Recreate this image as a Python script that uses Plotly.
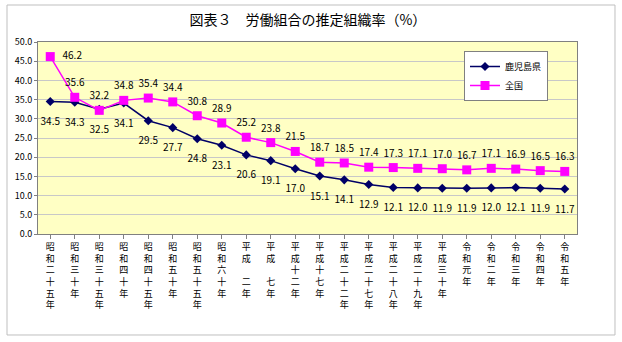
import plotly.graph_objects as go

# Survey years (vertical Japanese labels)
years = ["昭和二十五年", "昭和三十年", "昭和三十五年", "昭和四十年", "昭和四十五年",
         "昭和五十年", "昭和五十五年", "昭和六十年", "平成　二年", "平成　七年",
         "平成十二年", "平成十七年", "平成二十二年", "平成二十七年", "平成二十八年",
         "平成二十九年", "平成三十年", "令和元年", "令和二年", "令和三年",
         "令和四年", "令和五年"]

kagoshima = [34.5, 34.3, 32.5, 34.1, 29.5, 27.7, 24.8, 23.1, 20.6, 19.1, 17.0,
             15.1, 14.1, 12.9, 12.1, 12.0, 11.9, 11.9, 12.0, 12.1, 11.9, 11.7]
national = [46.2, 35.6, 32.2, 34.8, 35.4, 34.4, 30.8, 28.9, 25.2, 23.8, 21.5,
            18.7, 18.5, 17.4, 17.3, 17.1, 17.0, 16.7, 17.1, 16.9, 16.5, 16.3]

y_ticks = [0, 5, 10, 15, 20, 25, 30, 35, 40, 45, 50]

FONT = "Noto Sans CJK JP"
NAVY = "#000066"
MAGENTA = "#FF00FF"
x_idx = list(range(len(years)))
tick_text = ["<br>".join(list(y)) for y in years]

fig = go.Figure()
fig.add_trace(go.Scatter(
    x=x_idx, y=kagoshima, name="鹿児島県", mode="lines+markers",
    line=dict(color=NAVY, width=1.5),
    marker=dict(symbol="diamond", size=7, color=NAVY),
    cliponaxis=False,
))
fig.add_trace(go.Scatter(
    x=x_idx, y=national, name="全国", mode="lines+markers",
    line=dict(color=MAGENTA, width=1.5),
    marker=dict(symbol="square", size=9, color=MAGENTA),
    cliponaxis=False,
))

# Value labels: invisible markers set how far each label sits from its point
fig.add_trace(go.Scatter(
    x=x_idx, y=kagoshima, mode="markers+text", showlegend=False,
    hoverinfo="skip", marker=dict(size=24, opacity=0),
    text=[f"{v:.1f}" for v in kagoshima], textposition="bottom center",
    textfont=dict(family=FONT, size=10, color="#000000"),
    cliponaxis=False,
))
fig.add_trace(go.Scatter(
    x=x_idx, y=national, mode="markers+text", showlegend=False,
    hoverinfo="skip", marker=dict(size=[18] + [12] * (len(national) - 1), opacity=0),
    text=[f"{v:.1f}" for v in national],
    textposition=["middle right"] + ["top center"] * (len(national) - 1),
    textfont=dict(family=FONT, size=10, color="#000000"),
    cliponaxis=False,
))

fig.update_layout(
    width=622, height=342,
    margin=dict(l=38, r=45, t=42, b=108),
    paper_bgcolor="white", plot_bgcolor="#FFFFC4",
    font=dict(family=FONT, size=9, color="#000000"),
    title=dict(text="図表３　労働組合の推定組織率（%）", x=0.495, xanchor="center",
               y=1 - 20 / 342, yanchor="middle",
               font=dict(family=FONT, size=14, color="#000000")),
    showlegend=True,
    legend=dict(x=(464 - 38) / 539, y=(234 - 51) / 192, xanchor="left", yanchor="top",
                bgcolor="white", bordercolor="#808080", borderwidth=1,
                font=dict(family=FONT, size=9), tracegroupgap=0,
                itemwidth=30),
    shapes=[dict(type="rect", xref="paper", yref="paper",
                 x0=-0.0575, x1=1.0705, y0=-0.526, y1=1.1927,
                 line=dict(color="#BFBFBF", width=1), layer="below")],
)
fig.update_xaxes(
    range=[-0.5, len(years) - 0.5], tickmode="array", tickvals=x_idx,
    ticktext=tick_text, tickangle=0, tickson="boundaries", ticks="outside",
    ticklen=4, tickcolor="#808080", showgrid=False, zeroline=False,
    showline=True, linecolor="#808080", mirror=True,
    tickfont=dict(family=FONT, size=9),
)
fig.update_yaxes(
    range=[0, 50], tickmode="array", tickvals=y_ticks,
    ticktext=[f"{v:.1f}" for v in y_ticks], ticks="outside", ticklen=3,
    tickcolor="#808080", showgrid=True, gridcolor="#C8C8C8", gridwidth=1,
    zeroline=False, showline=True, linecolor="#808080", mirror=True,
    tickfont=dict(family=FONT, size=9),
)

fig.write_html("out.html")
